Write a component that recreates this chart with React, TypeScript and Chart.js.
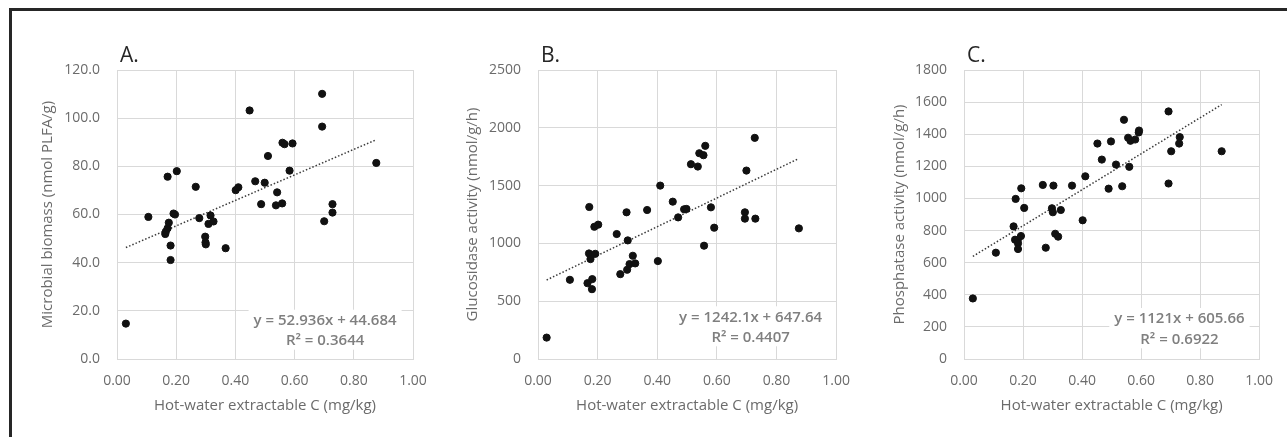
import React, { useEffect, useRef } from "react";
import { Chart, registerables } from "chart.js";
Chart.register(...registerables);

// ---------- data ----------
const hweA = [0.03, 0.106, 0.163, 0.165, 0.171, 0.175, 0.171, 0.181, 0.181, 0.191, 0.196, 0.202, 0.266, 0.278, 0.298, 0.299, 0.3, 0.309, 0.316, 0.326, 0.367, 0.401, 0.41, 0.448, 0.467, 0.487, 0.499, 0.51, 0.537, 0.541, 0.558, 0.559, 0.566, 0.583, 0.593, 0.693, 0.693, 0.7, 0.728, 0.728, 0.876];
const biomass = [14.7, 59.0, 51.9, 52.9, 54.3, 56.6, 75.7, 47.1, 41.1, 60.4, 60.0, 78.0, 71.5, 58.5, 50.8, 48.4, 47.6, 56.1, 59.6, 57.1, 46.0, 70.1, 71.3, 103.2, 73.8, 64.3, 73.2, 84.3, 63.8, 69.2, 64.6, 89.8, 89.2, 78.2, 89.5, 110.1, 96.5, 57.2, 64.3, 60.8, 81.4];

const hweB = [0.029, 0.107, 0.166, 0.171, 0.172, 0.176, 0.181, 0.182, 0.189, 0.192, 0.202, 0.264, 0.276, 0.297, 0.299, 0.301, 0.307, 0.318, 0.326, 0.366, 0.402, 0.41, 0.452, 0.47, 0.49, 0.498, 0.513, 0.536, 0.541, 0.555, 0.557, 0.561, 0.58, 0.591, 0.694, 0.694, 0.699, 0.727, 0.729, 0.875];
const glucosidase = [185, 685, 656, 913, 1315, 864, 604, 691, 1144, 910, 1162, 1081, 734, 1269, 772, 1026, 821, 893, 827, 1289, 847, 1500, 1361, 1225, 1295, 1298, 1685, 1665, 1780, 1763, 980, 1844, 1312, 1136, 1269, 1214, 1630, 1913, 1214, 1130];

const hweC = [0.03, 0.108, 0.168, 0.173, 0.175, 0.182, 0.183, 0.183, 0.193, 0.194, 0.204, 0.267, 0.277, 0.298, 0.301, 0.303, 0.309, 0.319, 0.328, 0.366, 0.402, 0.411, 0.452, 0.467, 0.49, 0.498, 0.515, 0.536, 0.542, 0.556, 0.56, 0.564, 0.58, 0.592, 0.593, 0.693, 0.693, 0.702, 0.729, 0.731, 0.873];
const phosphatase = [377, 662, 826, 743, 997, 739, 720, 685, 766, 1063, 941, 1084, 693, 939, 914, 1080, 780, 762, 928, 1080, 864, 1138, 1342, 1242, 1061, 1355, 1211, 1076, 1490, 1378, 1197, 1359, 1367, 1411, 1423, 1542, 1093, 1294, 1342, 1382, 1294];

const xTitle = "Hot-water extractable C (mg/kg)";
const panelLabels = ["A.", "B.", "C."];
const yTitles = ["Microbial biomass (nmol PLFA/g)", "Glucosidase activity (nmol/g/h)", "Phosphatase activity (nmol/g/h)"];
const yMaxes = [120, 2500, 1800];
const ySteps = [20, 500, 200];
const yDecimals = [1, 0, 0];
const slopes = [52.936, 1242.1, 1121];
const intercepts = [44.684, 647.64, 605.66];
const eqTexts = ["y = 52.936x + 44.684", "y = 1242.1x + 647.64", "y = 1121x + 605.66"];
const r2Texts = ["R² = 0.3644", "R² = 0.4407", "R² = 0.6922"];

// ---------- layout (not data) ----------
const layouts = [
  { left: 13, width: 430, padRight: 30, yTitlePad: 26, eqFrac: 0.703, eq1: 38.3, eq2: 18.3 },
  { left: 434, width: 430, padRight: 25, yTitlePad: 30, eqFrac: 0.713, eq1: 41.7, eq2: 21.7 },
  { left: 860, width: 427, padRight: 22, yTitlePad: 31, eqFrac: 0.73, eq1: 40, eq2: 19.7 },
];

const FONT = "'Open Sans', 'DejaVu Sans', sans-serif";
const GREY = "#6b6b6b";
const GRID = "#d9d9d9";

function Panel({ idx, xs, ys }: { idx: number; xs: number[]; ys: number[] }) {
  const ref = useRef<HTMLCanvasElement | null>(null);
  const L = layouts[idx];
  useEffect(() => {
    if (!ref.current) return;
    const xmin = Math.min(...xs);
    const xmax = Math.max(...xs);
    const trend = [
      { x: xmin, y: slopes[idx] * xmin + intercepts[idx] },
      { x: xmax, y: slopes[idx] * xmax + intercepts[idx] },
    ];
    const pts = xs.map((x, i) => ({ x, y: ys[i] }));
    const annot = {
      id: "annot" + idx,
      beforeDatasetsDraw(chart: any) {
        const { ctx, chartArea } = chart;
        ctx.save();
        ctx.font = `600 15px ${FONT}`;
        const w1 = ctx.measureText(eqTexts[idx]).width;
        const w2 = ctx.measureText(r2Texts[idx]).width;
        const cx = chartArea.left + L.eqFrac * (chartArea.right - chartArea.left);
        const y1 = chartArea.bottom - L.eq1;
        const y2 = chartArea.bottom - L.eq2;
        const bw = Math.max(w1, w2) + 10;
        ctx.fillStyle = "#ffffff";
        ctx.fillRect(cx - bw / 2, y1 - 11, bw, y2 - y1 + 20);
        ctx.fillStyle = "#7f7f7f";
        ctx.textAlign = "center";
        ctx.textBaseline = "middle";
        ctx.fillText(eqTexts[idx], cx, y1);
        ctx.fillText(r2Texts[idx], cx, y2);
        ctx.restore();
      },
      afterDraw(chart: any) {
        const { ctx, chartArea } = chart;
        ctx.save();
        ctx.font = `21px ${FONT}`;
        ctx.fillStyle = "#262626";
        ctx.textAlign = "left";
        ctx.textBaseline = "alphabetic";
        ctx.fillText(panelLabels[idx], chartArea.left + 3, chartArea.top - 8);
        ctx.restore();
      },
    };
    const chart = new Chart(ref.current, {
      type: "scatter",
      data: {
        datasets: [
          {
            type: "line",
            data: trend,
            borderColor: "#3a3a3a",
            borderWidth: 1.5,
            borderDash: [1.5, 2],
            pointRadius: 0,
            fill: false,
            order: 1,
          } as any,
          {
            data: pts,
            backgroundColor: "#111111",
            borderColor: "#111111",
            pointRadius: 3.6,
            pointHoverRadius: 3.6,
            order: 0,
          },
        ],
      },
      options: {
        responsive: false,
        animation: false,
        layout: { padding: { left: 0, right: L.padRight, top: 59, bottom: 22 } },
        plugins: { legend: { display: false }, tooltip: { enabled: false } },
        scales: {
          x: {
            type: "linear",
            min: 0,
            max: 1,
            ticks: {
              stepSize: 0.2,
              padding: 14,
              color: GREY,
              font: { family: FONT, size: 14 },
              callback: (v: any) => Number(v).toFixed(2),
            },
            grid: { color: GRID, drawTicks: false },
            border: { color: GRID },
            title: { display: true, text: xTitle, color: GREY, font: { family: FONT, size: 15 }, padding: 0 },
            afterFit: (s: any) => {
              s.height = 56;
            },
          },
          y: {
            type: "linear",
            min: 0,
            max: yMaxes[idx],
            ticks: {
              stepSize: ySteps[idx],
              padding: 17,
              color: GREY,
              font: { family: FONT, size: 14 },
              callback: (v: any) => Number(v).toFixed(yDecimals[idx]),
            },
            grid: { color: GRID, drawTicks: false },
            border: { color: GRID },
            title: {
              display: true,
              text: yTitles[idx],
              color: GREY,
              font: { family: FONT, size: 15 },
              padding: { top: L.yTitlePad, bottom: 0 },
            },
            afterFit: (s: any) => {
              s.width = 104;
            },
          },
        },
      },
      plugins: [annot],
    });
    return () => chart.destroy();
  }, []);
  return (
    <canvas
      ref={ref}
      width={L.width}
      height={426}
      style={{ position: "absolute", left: L.left, top: 11, width: L.width, height: 426 }}
    />
  );
}

export default function App() {
  return (
    <div
      style={{
        position: "absolute",
        left: 0,
        top: 0,
        width: 1287,
        height: 437,
        overflow: "hidden",
        background: "#ffffff",
      }}
    >
      <div
        style={{
          position: "absolute",
          left: 9,
          top: 8,
          width: 1400,
          height: 600,
          borderLeft: "3px solid #262626",
          borderTop: "3px solid #262626",
        }}
      />
      <Panel idx={0} xs={hweA} ys={biomass} />
      <Panel idx={1} xs={hweB} ys={glucosidase} />
      <Panel idx={2} xs={hweC} ys={phosphatase} />
    </div>
  );
}
